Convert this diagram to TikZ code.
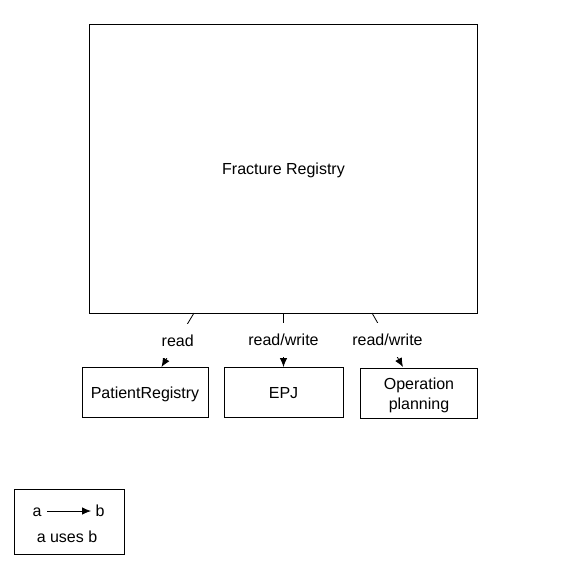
\documentclass[tikz,border=0pt]{standalone}
\usepackage{fontspec}
\setmainfont{Liberation Sans}
\usetikzlibrary{arrows.meta}
\begin{document}
\begin{tikzpicture}[x=1pt,y=-1pt,
  font=\fontsize{16}{19}\selectfont,
  tx/.style={text height=15pt,text depth=3.5pt},
  box/.style={draw,line width=1pt,inner sep=0pt},
  uses/.style={line width=0.8pt,-{Latex[length=9pt,width=7.5pt]}},
  lbl/.style={tx,fill=white,inner xsep=1.5pt,inner ysep=8pt}]
\useasboundingbox (0,0) rectangle (566,566);
\node[box,tx,minimum width=388,minimum height=289] (fr) at (283.5,169) {Fracture Registry};
\node[box,tx,minimum width=126,minimum height=50] (pr) at (145,392.5) {PatientRegistry};
\node[box,tx,minimum width=119,minimum height=50] (epj) at (283.5,392.5) {EPJ};
\node[box,minimum width=117,minimum height=50,align=center] (op) at (419,393) {\rule{0pt}{16.5pt}Operation\\[1pt]planning};
\coordinate (s1) at (194,313);
\coordinate (e1) at (161.5,367);
\coordinate (s2) at (283.5,313);
\coordinate (e2) at (283.5,367);
\coordinate (s3) at (372,313);
\coordinate (e3) at (403,367);
\draw[uses] (s1) -- node[lbl,yshift=-1pt] {read} (e1);
\draw[uses] (s2) -- node[lbl] {read/write} (e2);
\draw[uses] (s3) -- node[lbl] {read/write} (e3);
% legend
\node[box,minimum width=110,minimum height=65] (leg) at (69.5,521.5) {};
\node[tx] (la) at (37,511) {a};
\node[tx] (lb) at (100,511) {b};
\node[tx] (lt) at (67,537) {a uses b};
\draw[uses] (47,511) -- (91,511);
\end{tikzpicture}
\end{document}
